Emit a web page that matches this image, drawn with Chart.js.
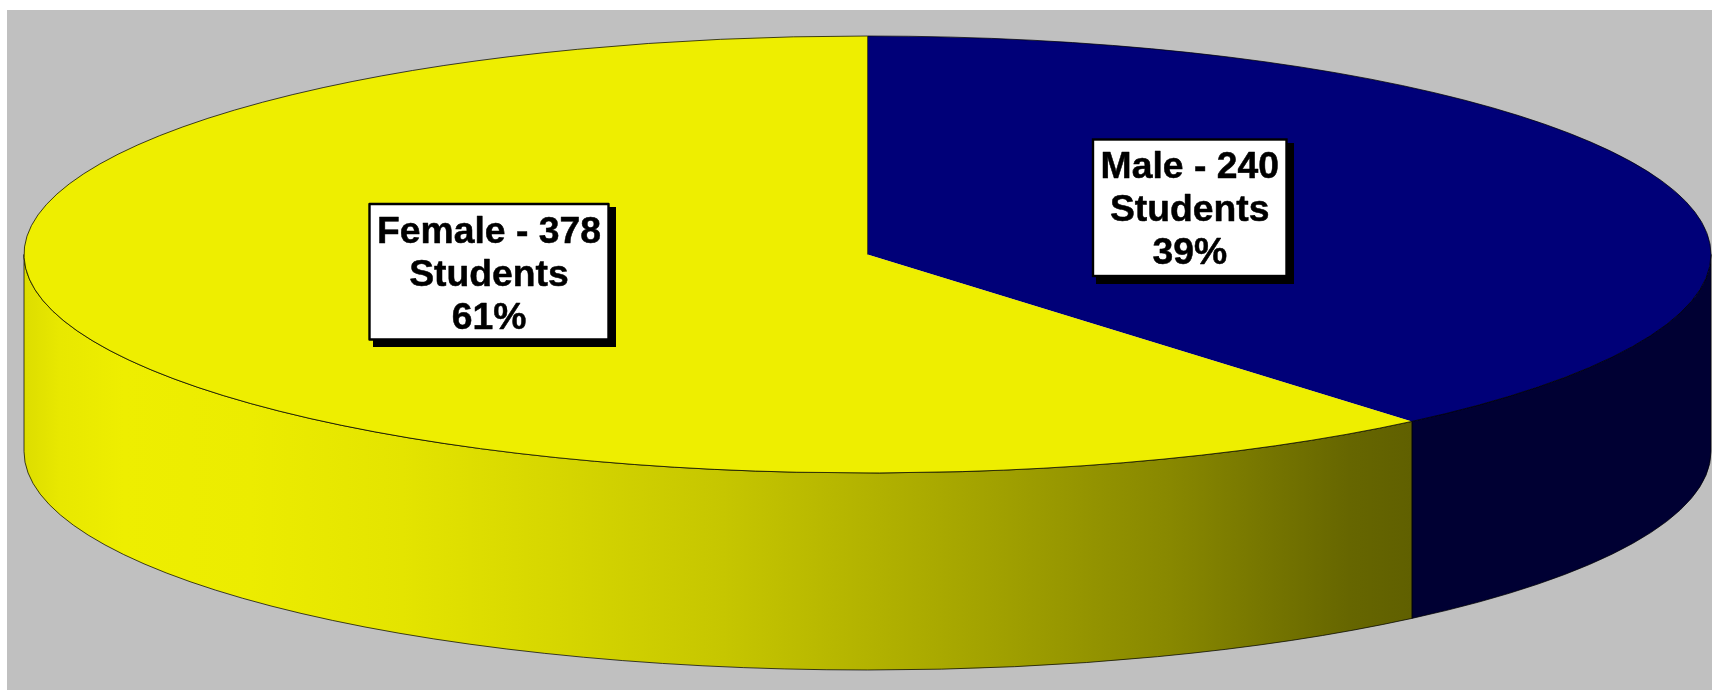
<!DOCTYPE html>
<html>
<head>
<meta charset="utf-8">
<title>Students by gender</title>
<style>
  html, body { margin: 0; padding: 0; background: #fff; overflow: hidden; }
  #wrap { position: absolute; left: 0; top: 0; width: 1712px; height: 690px; }
</style>
</head>
<body>
<div id="wrap"><canvas id="chart"></canvas></div>
<script src="https://cdn.jsdelivr.net/npm/chart.js@4/dist/chart.umd.min.js"></script>
<script>
// ── Data ──────────────────────────────────────────────
const categories = ['Male', 'Female'];
const students = [240, 378];
const percents = [39, 61];

// ── Look of the pie ───────────────────────────────────
const topColors = ['#000078', '#eeee00'];
const ELLIPSE = { cx: 867.5, cy: 254.5, rx: 843.5, ry: 218.5, depth: 197 };
const PANEL = { left: 7, top: 10 };
const OUTLINE = 'rgba(0,0,0,.72)';

// label boxes, one per category
const boxes = [
  { left: 1093, top: 139.5, right: 1286.5, bottom: 276, baseline: 178, shadowLeft: 1096, shadowTop: 143, shadowRight: 1294, shadowBottom: 284 },
  { left: 369.5, top: 204, right: 608.5, bottom: 339.5, baseline: 243, shadowLeft: 373, shadowTop: 207, shadowRight: 616, shadowBottom: 347 }
];

const wallFill = (ctx, index) => {
  if (index === 0) return '#000033';
  const g = ctx.createLinearGradient(ELLIPSE.cx - ELLIPSE.rx, 0, 1412, 0);
  g.addColorStop(0, '#dddd00');
  g.addColorStop(0.026, '#e8e800');
  g.addColorStop(0.072, '#eeee00');
  g.addColorStop(0.163, '#ecec00');
  g.addColorStop(0.273, '#e4e400');
  g.addColorStop(0.386, '#d6d600');
  g.addColorStop(0.504, '#c6c600');
  g.addColorStop(0.665, '#a8a800');
  g.addColorStop(0.826, '#888800');
  g.addColorStop(0.955, '#666600');
  g.addColorStop(1, '#606000');
  return g;
};

// ── Tilted pie: squash the library's arcs onto an ellipse ──
const tiltPlugin = {
  id: 'tilt',
  beforeDraw(chart) {
    const { ctx, width, height } = chart;
    ctx.save();
    ctx.fillStyle = '#fff';
    ctx.fillRect(0, 0, width, height);
    ctx.fillStyle = '#c0c0c0';
    ctx.fillRect(PANEL.left, PANEL.top, width - PANEL.left, height - PANEL.top);
    ctx.restore();
  },
  beforeDatasetsDraw(chart) {
    const { ctx } = chart;
    const { cx, cy, rx, ry, depth } = ELLIPSE;
    const arcs = chart.getDatasetMeta(0).data;

    // side wall, only the front half of the rim shows
    arcs.forEach((arc, i) => {
      const a1 = Math.max(arc.startAngle, 0);
      const a2 = Math.min(arc.endAngle, Math.PI);
      if (a2 <= a1) return;
      ctx.beginPath();
      ctx.ellipse(cx, cy, rx, ry, 0, a1, a2);
      ctx.ellipse(cx, cy + depth, rx, ry, 0, a2, a1, true);
      ctx.closePath();
      ctx.fillStyle = wallFill(ctx, i);
      ctx.fill();
      ctx.lineWidth = 1;
      ctx.strokeStyle = OUTLINE;
      ctx.stroke();
    });

    const arc = arcs[0];
    ctx.save();
    ctx.translate(cx, cy);
    ctx.scale(rx / arc.outerRadius, ry / arc.outerRadius);
    ctx.translate(-arc.x, -arc.y);
  },
  afterDatasetsDraw(chart) {
    const { ctx } = chart;
    const { cx, cy, rx, ry } = ELLIPSE;
    ctx.restore();

    // rim outline, in page pixels so the line is not squashed
    chart.getDatasetMeta(0).data.forEach((arc) => {
      ctx.beginPath();
      ctx.ellipse(cx, cy, rx, ry, 0, arc.startAngle, arc.endAngle);
      ctx.lineWidth = 1;
      ctx.strokeStyle = OUTLINE;
      ctx.stroke();
    });
    ctx.beginPath();
    ctx.moveTo(cx, cy - ry);
    ctx.lineTo(cx, cy);
    ctx.lineWidth = 1;
    ctx.strokeStyle = 'rgba(60,60,0,.8)';
    ctx.stroke();
  },
  afterDraw(chart) {
    const { ctx } = chart;
    ctx.save();
    categories.forEach((name, i) => {
      const b = boxes[i];
      ctx.fillStyle = '#000';
      ctx.fillRect(b.shadowLeft, b.shadowTop, b.shadowRight - b.shadowLeft, b.shadowBottom - b.shadowTop);
      ctx.fillStyle = '#fff';
      ctx.fillRect(b.left, b.top, b.right - b.left, b.bottom - b.top);
      ctx.lineWidth = 2.4;
      ctx.strokeStyle = '#000';
      ctx.strokeRect(b.left, b.top, b.right - b.left, b.bottom - b.top);

      ctx.fillStyle = '#000';
      ctx.font = 'bold 37.3px "Liberation Sans", Arial, sans-serif';
      ctx.textAlign = 'center';
      ctx.textBaseline = 'alphabetic';
      ctx.lineWidth = 0.5;
      ctx.lineJoin = 'round';
      const mid = (b.left + b.right) / 2;
      [name + ' - ' + students[i], 'Students', percents[i] + '%'].forEach((line, n) => {
        const y = b.baseline + [0, 43, 86][n];
        ctx.fillText(line, mid, y);
        ctx.strokeText(line, mid, y);
      });
    });
    ctx.restore();
  }
};

// ── Chart ─────────────────────────────────────────────
new Chart(document.getElementById('chart'), {
  type: 'pie',
  data: {
    labels: categories,
    datasets: [{ data: students, backgroundColor: topColors, borderWidth: 0 }]
  },
  options: {
    responsive: true,
    maintainAspectRatio: false,
    animation: false,
    layout: { padding: 0 },
    plugins: { legend: { display: false }, tooltip: { enabled: false } }
  },
  plugins: [tiltPlugin]
});
</script>
</body>
</html>
